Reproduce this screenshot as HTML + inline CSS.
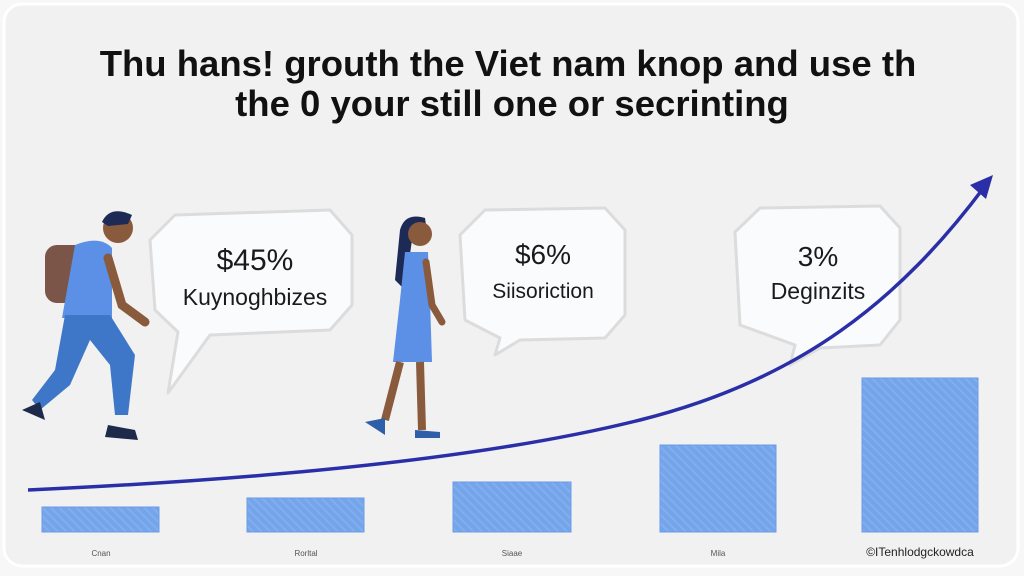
<!DOCTYPE html>
<html><head><meta charset="utf-8"><style>
body{margin:0;background:#f3f3f3;}
svg{display:block;font-family:"Liberation Sans",sans-serif;}
</style></head><body>
<svg width="1024" height="576" viewBox="0 0 1024 576">
<defs>
<pattern id="st" width="6" height="6" patternUnits="userSpaceOnUse" patternTransform="rotate(-45)">
<rect width="6" height="6" fill="#74a4ea"/><rect width="2" height="6" fill="#82aeee"/></pattern>
</defs>
<rect x="0" y="0" width="1024" height="576" fill="#f7f7f7"/>
<rect x="4" y="4" width="1014" height="562" rx="18" fill="#f1f1f1" stroke="#fff" stroke-width="3"/>
<text x="508" y="76" font-size="36.5" font-weight="bold" text-anchor="middle" fill="#111">Thu hans! grouth the Viet nam  knop and use th</text>
<text x="512" y="116" font-size="36.5" font-weight="bold" text-anchor="middle" fill="#111">the 0  your still one or secrinting</text>
<!-- bubbles -->
<g fill="#fafbfc" stroke="#dcdcdc" stroke-width="3" stroke-linejoin="round">
<path d="M175,215 L330,210 L352,235 L352,305 L330,330 L210,335 L168,393 L178,332 L155,310 L150,240 Z"/>
<path d="M485,210 L605,208 L625,230 L625,315 L605,338 L520,340 L495,355 L500,338 L465,320 L460,235 Z"/>
<path d="M760,208 L880,206 L900,228 L900,320 L880,345 L820,348 L790,365 L795,345 L740,325 L735,232 Z"/>
</g>
<g fill="#1a1a1a" text-anchor="middle">
<text x="255" y="270" font-size="30">$45%</text>
<text x="255" y="305" font-size="23">Kuynoghbizes</text>
<text x="543" y="264" font-size="28">$6%</text>
<text x="543" y="298" font-size="21">Siisoriction</text>
<text x="818" y="266" font-size="28">3%</text>
<text x="818" y="299" font-size="23">Deginzits</text>
</g>
<!-- man -->
<g>
<rect x="45" y="245" width="45" height="58" rx="12" fill="#7b5548"/>
<circle cx="118" cy="228" r="15" fill="#8a5a3c"/>
<path d="M102,222 Q110,205 132,215 L128,224 L108,226 Z" fill="#1d2a55"/>
<path d="M75,245 Q100,235 112,248 L112,318 L62,318 Z" fill="#5b90e6"/>
<path d="M108,258 L122,305 L145,322" stroke="#8a5a3c" stroke-width="9" fill="none" stroke-linecap="round"/>
<path d="M65,315 L110,315 L135,355 L128,415 L115,415 L110,365 L90,340 L70,385 L40,410 L32,400 L55,370 Z" fill="#3f77c8"/>
<path d="M22,410 L40,402 L45,420 Z" fill="#1e2a4a"/>
<path d="M108,425 L135,430 L138,440 L105,437 Z" fill="#1e2a4a"/>
</g>
<!-- woman -->
<g>
<path d="M400,230 Q405,212 425,218 L428,240 L412,240 L405,290 L395,280 Z" fill="#1d2a55"/>
<circle cx="420" cy="234" r="12" fill="#8a5a3c"/>
<path d="M405,252 L428,252 L430,300 L432,362 L393,362 L400,300 Z" fill="#5b90e6"/>
<path d="M426,262 L432,305 L442,322" stroke="#8a5a3c" stroke-width="7" fill="none" stroke-linecap="round"/>
<path d="M400,362 L385,420 M420,362 L422,430" stroke="#8a5a3c" stroke-width="8" fill="none"/>
<path d="M365,422 L385,418 L385,435 Z" fill="#2f5fa8"/>
<path d="M415,430 L440,432 L440,438 L415,438 Z" fill="#2f5fa8"/>
</g>
<!-- bars -->
<g fill="url(#st)" stroke="#6c9ce6" stroke-width="1">
<rect x="42" y="507" width="117" height="25"/>
<rect x="247" y="498" width="117" height="34"/>
<rect x="453" y="482" width="118" height="50"/>
<rect x="660" y="445" width="116" height="87"/>
<rect x="862" y="378" width="116" height="154"/>
</g>
<!-- curve -->
<path d="M28,490 C250,480 480,460 640,420 C800,380 900,300 985,186" stroke="#2a2fa8" stroke-width="3.5" fill="none"/>
<path d="M993,175 L970,185 L986,199 Z" fill="#2a2fa8"/>
<g font-size="8" fill="#555" text-anchor="middle">
<text x="101" y="556">Cnan</text><text x="306" y="556">Rorltal</text><text x="512" y="556">Siaae</text><text x="718" y="556">Mila</text>
</g>
<text x="920" y="556" font-size="12" text-anchor="middle" fill="#222">©ITenhlodgckowdca</text>
</svg>
</body></html>
